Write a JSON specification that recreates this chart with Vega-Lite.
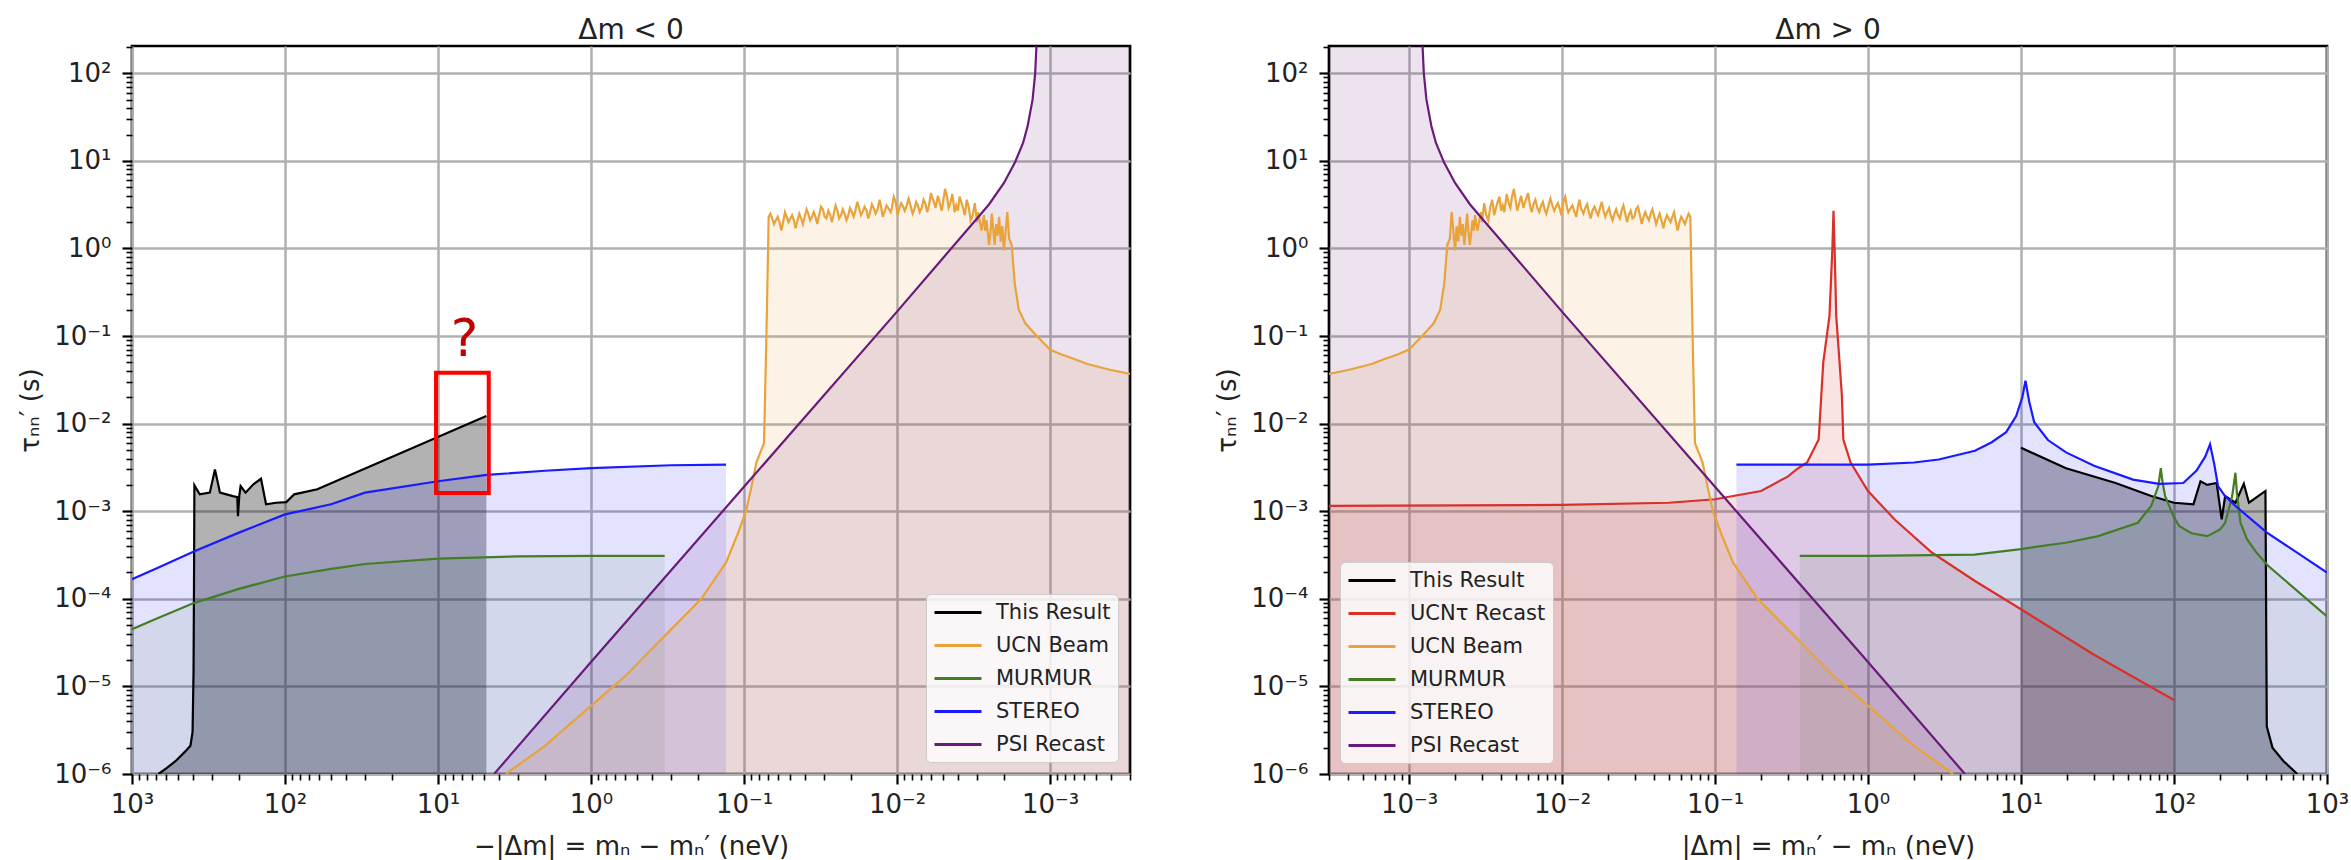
{
"$schema": "https://vega.github.io/schema/vega-lite/v6.json",
"background": "white",
"padding": {"left": 16, "top": 15, "right": 0, "bottom": 0},
"bounds": "flush",
"spacing": 199,
"config": {
  "font": "DejaVu Sans",
  "view": {"stroke": "#000000", "strokeWidth": 2.7},
  "axis": {"labelFont": "DejaVu Sans", "labelFontSize": 26, "titleFont": "DejaVu Sans", "titleFontSize": 26, "titleFontWeight": "normal", "labelColor": "#222222", "titleColor": "#222222", "domain": false, "tickColor": "#000000", "gridColor": "#b0b0b0", "gridWidth": 2.5, "zindex": 1, "labelOverlap": false, "labelFlush": false, "labelBound": false},
  "axisX": {"titlePadding": 16, "labelPadding": 7},
  "axisY": {"titlePadding": 10, "labelPadding": 11},
  "title": {"font": "DejaVu Sans", "fontSize": 28, "fontWeight": "normal", "color": "#222222", "offset": -11, "anchor": "middle"},
  "legend": {"symbolType": "M-1,0H3.7", "symbolSize": 400, "symbolStrokeWidth": 3, "labelFont": "DejaVu Sans", "labelFontSize": 21, "labelColor": "#222222", "labelOffset": 40, "labelLimit": 0, "rowPadding": 11, "padding": 7, "fillColor": "rgba(255,255,255,0.8)", "strokeColor": "#cccccc", "cornerRadius": 5, "symbolOpacity": 1, "offset": 11}
},
"datasets": {
  "LS": [
    {"s":"This Result","x":672,"y":1e-6},{"s":"This Result","x":600,"y":1.15e-6},{"s":"This Result","x":520,"y":1.4e-6},{"s":"This Result","x":450,"y":1.8e-6},{"s":"This Result","x":415,"y":2.1e-6},{"s":"This Result","x":402,"y":3e-6},{"s":"This Result","x":396,"y":1.5e-5},{"s":"This Result","x":393,"y":2e-4},{"s":"This Result","x":391,"y":1.98e-3},{"s":"This Result","x":361,"y":1.56e-3},{"s":"This Result","x":310,"y":1.63e-3},{"s":"This Result","x":287,"y":3.0e-3},{"s":"This Result","x":266,"y":1.63e-3},{"s":"This Result","x":219,"y":1.49e-3},{"s":"This Result","x":205,"y":1.45e-3},{"s":"This Result","x":203,"y":8.8e-4},{"s":"This Result","x":199,"y":1.5e-3},{"s":"This Result","x":195,"y":1.94e-3},{"s":"This Result","x":181,"y":1.63e-3},{"s":"This Result","x":161,"y":2.03e-3},{"s":"This Result","x":143.5,"y":2.35e-3},{"s":"This Result","x":133,"y":1.2e-3},{"s":"This Result","x":114,"y":1.25e-3},{"s":"This Result","x":98,"y":1.27e-3},{"s":"This Result","x":87,"y":1.56e-3},{"s":"This Result","x":61.5,"y":1.78e-3},{"s":"This Result","x":4.83,"y":1.22e-2},
    {"s":"MURMUR","x":1000,"y":4.5e-5},{"s":"MURMUR","x":700,"y":5.9e-5},{"s":"MURMUR","x":391,"y":9e-5},{"s":"MURMUR","x":200,"y":1.3e-4},{"s":"MURMUR","x":100,"y":1.8e-4},{"s":"MURMUR","x":50,"y":2.2e-4},{"s":"MURMUR","x":30,"y":2.5e-4},{"s":"MURMUR","x":10,"y":2.87e-4},{"s":"MURMUR","x":3,"y":3.05e-4},{"s":"MURMUR","x":1,"y":3.1e-4},{"s":"MURMUR","x":0.33,"y":3.1e-4},
    {"s":"STEREO","x":1000,"y":1.67e-4},{"s":"STEREO","x":700,"y":2.2e-4},{"s":"STEREO","x":391,"y":3.5e-4},{"s":"STEREO","x":200,"y":5.7e-4},{"s":"STEREO","x":100,"y":9.2e-4},{"s":"STEREO","x":50,"y":1.2e-3},{"s":"STEREO","x":30,"y":1.63e-3},{"s":"STEREO","x":10,"y":2.2e-3},{"s":"STEREO","x":4.8,"y":2.6e-3},{"s":"STEREO","x":2,"y":2.9e-3},{"s":"STEREO","x":1,"y":3.1e-3},{"s":"STEREO","x":0.3,"y":3.35e-3},{"s":"STEREO","x":0.131,"y":3.4e-3}
  ],
  "RS": [
    {"s":"This Result","x":10,"y":5.3e-3},{"s":"This Result","x":19.7,"y":3.1e-3},{"s":"This Result","x":41.5,"y":2.1e-3},{"s":"This Result","x":71,"y":1.49e-3},{"s":"This Result","x":100,"y":1.25e-3},{"s":"This Result","x":134,"y":1.2e-3},{"s":"This Result","x":149,"y":2.2e-3},{"s":"This Result","x":165,"y":2.0e-3},{"s":"This Result","x":190,"y":2.1e-3},{"s":"This Result","x":205,"y":8.1e-4},{"s":"This Result","x":216,"y":1.49e-3},{"s":"This Result","x":252,"y":1.25e-3},{"s":"This Result","x":286,"y":2.06e-3},{"s":"This Result","x":309,"y":1.25e-3},{"s":"This Result","x":382,"y":1.63e-3},{"s":"This Result","x":396,"y":1.7e-3},{"s":"This Result","x":404,"y":3.5e-6},{"s":"This Result","x":440,"y":2e-6},{"s":"This Result","x":520,"y":1.4e-6},{"s":"This Result","x":640,"y":1e-6},
    {"s":"UCNτ Recast","x":0.0003,"y":1.15e-3},{"s":"UCNτ Recast","x":0.01,"y":1.18e-3},{"s":"UCNτ Recast","x":0.05,"y":1.25e-3},{"s":"UCNτ Recast","x":0.1,"y":1.37e-3},{"s":"UCNτ Recast","x":0.2,"y":1.7e-3},{"s":"UCNτ Recast","x":0.3,"y":2.5e-3},{"s":"UCNτ Recast","x":0.35,"y":3.1e-3},{"s":"UCNτ Recast","x":0.4,"y":3.6e-3},{"s":"UCNτ Recast","x":0.476,"y":6.6e-3},{"s":"UCNτ Recast","x":0.51,"y":0.05},{"s":"UCNτ Recast","x":0.56,"y":0.17},{"s":"UCNτ Recast","x":0.585,"y":1.0},{"s":"UCNτ Recast","x":0.595,"y":2.7},{"s":"UCNτ Recast","x":0.605,"y":1.0},{"s":"UCNτ Recast","x":0.62,"y":0.17},{"s":"UCNτ Recast","x":0.675,"y":0.021},{"s":"UCNτ Recast","x":0.69,"y":6.6e-3},{"s":"UCNτ Recast","x":0.77,"y":3.6e-3},{"s":"UCNτ Recast","x":1.0,"y":1.7e-3},{"s":"UCNτ Recast","x":1.5,"y":8e-4},{"s":"UCNτ Recast","x":2.6,"y":3.4e-4},{"s":"UCNτ Recast","x":5,"y":1.6e-4},{"s":"UCNτ Recast","x":10,"y":7.6e-5},{"s":"UCNτ Recast","x":30,"y":2.3e-5},{"s":"UCNτ Recast","x":100,"y":7e-6},
    {"s":"MURMUR","x":0.358,"y":3.1e-4},{"s":"MURMUR","x":1,"y":3.1e-4},{"s":"MURMUR","x":4.96,"y":3.2e-4},{"s":"MURMUR","x":10,"y":3.7e-4},{"s":"MURMUR","x":20,"y":4.4e-4},{"s":"MURMUR","x":32,"y":5.2e-4},{"s":"MURMUR","x":58,"y":7.4e-4},{"s":"MURMUR","x":71,"y":1.15e-3},{"s":"MURMUR","x":79,"y":1.94e-3},{"s":"MURMUR","x":82,"y":3.1e-3},{"s":"MURMUR","x":84,"y":2.2e-3},{"s":"MURMUR","x":87.5,"y":1.49e-3},{"s":"MURMUR","x":100,"y":8.5e-4},{"s":"MURMUR","x":108,"y":6.8e-4},{"s":"MURMUR","x":130,"y":5.6e-4},{"s":"MURMUR","x":165,"y":5.2e-4},{"s":"MURMUR","x":200,"y":6.2e-4},{"s":"MURMUR","x":216,"y":7.4e-4},{"s":"MURMUR","x":240,"y":1.49e-3},{"s":"MURMUR","x":252,"y":2.75e-3},{"s":"MURMUR","x":258,"y":1.6e-3},{"s":"MURMUR","x":272,"y":7.4e-4},{"s":"MURMUR","x":300,"y":4.8e-4},{"s":"MURMUR","x":345,"y":3.4e-4},{"s":"MURMUR","x":410,"y":2.4e-4},{"s":"MURMUR","x":1000,"y":6.3e-5},
    {"s":"STEREO","x":0.138,"y":3.4e-3},{"s":"STEREO","x":1,"y":3.4e-3},{"s":"STEREO","x":2,"y":3.6e-3},{"s":"STEREO","x":2.9,"y":3.9e-3},{"s":"STEREO","x":5,"y":4.9e-3},{"s":"STEREO","x":6.4,"y":6.1e-3},{"s":"STEREO","x":8,"y":8e-3},{"s":"STEREO","x":9.3,"y":0.0122},{"s":"STEREO","x":10.2,"y":0.02},{"s":"STEREO","x":10.7,"y":0.031},{"s":"STEREO","x":11.3,"y":0.018},{"s":"STEREO","x":12.2,"y":0.0104},{"s":"STEREO","x":15,"y":6.5e-3},{"s":"STEREO","x":19.7,"y":4.7e-3},{"s":"STEREO","x":30,"y":3.3e-3},{"s":"STEREO","x":54,"y":2.3e-3},{"s":"STEREO","x":80,"y":2.05e-3},{"s":"STEREO","x":115,"y":2.1e-3},{"s":"STEREO","x":140,"y":2.9e-3},{"s":"STEREO","x":160,"y":4.2e-3},{"s":"STEREO","x":172,"y":5.8e-3},{"s":"STEREO","x":183,"y":3.5e-3},{"s":"STEREO","x":194,"y":1.94e-3},{"s":"STEREO","x":215,"y":1.5e-3},{"s":"STEREO","x":252,"y":1.15e-3},{"s":"STEREO","x":405,"y":5.7e-4},{"s":"STEREO","x":1000,"y":2e-4}
  ],
  "SH": [
    {"s":"UCN Beam","x":0.0003,"y":0.037},{"s":"UCN Beam","x":0.0004,"y":0.041},{"s":"UCN Beam","x":0.00057,"y":0.048},{"s":"UCN Beam","x":0.0007,"y":0.055},{"s":"UCN Beam","x":0.00085,"y":0.062},{"s":"UCN Beam","x":0.001,"y":0.07},{"s":"UCN Beam","x":0.00122,"y":0.1},{"s":"UCN Beam","x":0.00145,"y":0.14},{"s":"UCN Beam","x":0.0016,"y":0.2},{"s":"UCN Beam","x":0.0017,"y":0.4},{"s":"UCN Beam","x":0.00178,"y":1.1},
    {"s":"UCN Beam","x":0.00185,"y":1.3},{"s":"UCN Beam","x":0.0019,"y":2.6},{"s":"UCN Beam","x":0.00195,"y":1.6},{"s":"UCN Beam","x":0.002,"y":0.95},{"s":"UCN Beam","x":0.00205,"y":1.8},{"s":"UCN Beam","x":0.0021,"y":1.2},{"s":"UCN Beam","x":0.00215,"y":2.3},{"s":"UCN Beam","x":0.0022,"y":1.4},{"s":"UCN Beam","x":0.00225,"y":1.9},{"s":"UCN Beam","x":0.0023,"y":1.1},{"s":"UCN Beam","x":0.0024,"y":2.5},{"s":"UCN Beam","x":0.00245,"y":1.5},{"s":"UCN Beam","x":0.0025,"y":1.1},{"s":"UCN Beam","x":0.0026,"y":2.1},{"s":"UCN Beam","x":0.00265,"y":1.6},{"s":"UCN Beam","x":0.0027,"y":2.4},{"s":"UCN Beam","x":0.0028,"y":1.6},{"s":"UCN Beam","x":0.00295,"y":2.6},{"s":"UCN Beam","x":0.003,"y":2.0},{"s":"UCN Beam","x":0.0031,"y":3.3},{"s":"UCN Beam","x":0.0032,"y":2.4},{"s":"UCN Beam","x":0.0033,"y":2.1},{"s":"UCN Beam","x":0.0034,"y":3.0},{"s":"UCN Beam","x":0.0035,"y":3.6},{"s":"UCN Beam","x":0.0036,"y":2.4},{"s":"UCN Beam","x":0.0037,"y":2.9},{"s":"UCN Beam","x":0.0038,"y":3.4},{"s":"UCN Beam","x":0.0039,"y":3.9},{"s":"UCN Beam","x":0.004,"y":2.7},{"s":"UCN Beam","x":0.0041,"y":3.1},{"s":"UCN Beam","x":0.0042,"y":2.6},{"s":"UCN Beam","x":0.00435,"y":4.2},{"s":"UCN Beam","x":0.0045,"y":3.2},{"s":"UCN Beam","x":0.0046,"y":2.9},{"s":"UCN Beam","x":0.0047,"y":3.8},{"s":"UCN Beam","x":0.00485,"y":4.8},{"s":"UCN Beam","x":0.005,"y":3.4},{"s":"UCN Beam","x":0.0051,"y":2.7},{"s":"UCN Beam","x":0.0053,"y":3.5},{"s":"UCN Beam","x":0.0054,"y":4.0},{"s":"UCN Beam","x":0.0056,"y":2.9},{"s":"UCN Beam","x":0.0057,"y":3.3},{"s":"UCN Beam","x":0.0059,"y":3.9},{"s":"UCN Beam","x":0.006,"y":4.3},{"s":"UCN Beam","x":0.0062,"y":3.0},{"s":"UCN Beam","x":0.00635,"y":2.6},{"s":"UCN Beam","x":0.0065,"y":3.2},{"s":"UCN Beam","x":0.0067,"y":3.6},{"s":"UCN Beam","x":0.0069,"y":2.9},{"s":"UCN Beam","x":0.0071,"y":2.6},{"s":"UCN Beam","x":0.0073,"y":3.1},{"s":"UCN Beam","x":0.0075,"y":3.4},{"s":"UCN Beam","x":0.0077,"y":2.8},{"s":"UCN Beam","x":0.0079,"y":2.5},{"s":"UCN Beam","x":0.0082,"y":3.2},{"s":"UCN Beam","x":0.0084,"y":3.7},{"s":"UCN Beam","x":0.0087,"y":3.0},{"s":"UCN Beam","x":0.0089,"y":2.7},{"s":"UCN Beam","x":0.0092,"y":3.1},{"s":"UCN Beam","x":0.0094,"y":3.3},{"s":"UCN Beam","x":0.0097,"y":2.8},{"s":"UCN Beam","x":0.0099,"y":2.4},{"s":"UCN Beam","x":0.0102,"y":3.4},{"s":"UCN Beam","x":0.0105,"y":3.9},{"s":"UCN Beam","x":0.0108,"y":2.9},{"s":"UCN Beam","x":0.011,"y":2.6},{"s":"UCN Beam","x":0.0114,"y":2.9},{"s":"UCN Beam","x":0.0117,"y":3.1},{"s":"UCN Beam","x":0.012,"y":2.7},{"s":"UCN Beam","x":0.0124,"y":2.3},{"s":"UCN Beam","x":0.0127,"y":3.0},{"s":"UCN Beam","x":0.013,"y":3.6},{"s":"UCN Beam","x":0.0134,"y":2.8},{"s":"UCN Beam","x":0.0138,"y":2.5},{"s":"UCN Beam","x":0.0142,"y":2.9},{"s":"UCN Beam","x":0.0146,"y":3.2},{"s":"UCN Beam","x":0.015,"y":2.6},{"s":"UCN Beam","x":0.0154,"y":2.2},{"s":"UCN Beam","x":0.0158,"y":2.7},{"s":"UCN Beam","x":0.0163,"y":3.0},{"s":"UCN Beam","x":0.0168,"y":2.6},{"s":"UCN Beam","x":0.0172,"y":2.4},{"s":"UCN Beam","x":0.0177,"y":2.9},{"s":"UCN Beam","x":0.0182,"y":3.4},{"s":"UCN Beam","x":0.0187,"y":2.7},{"s":"UCN Beam","x":0.0192,"y":2.3},{"s":"UCN Beam","x":0.0197,"y":2.6},{"s":"UCN Beam","x":0.0203,"y":2.9},{"s":"UCN Beam","x":0.0208,"y":2.4},{"s":"UCN Beam","x":0.0214,"y":2.1},{"s":"UCN Beam","x":0.022,"y":2.5},{"s":"UCN Beam","x":0.0226,"y":2.8},{"s":"UCN Beam","x":0.0232,"y":2.4},{"s":"UCN Beam","x":0.0239,"y":2.2},{"s":"UCN Beam","x":0.0245,"y":2.7},{"s":"UCN Beam","x":0.0252,"y":3.1},{"s":"UCN Beam","x":0.0259,"y":2.5},{"s":"UCN Beam","x":0.0266,"y":2.0},{"s":"UCN Beam","x":0.0273,"y":2.4},{"s":"UCN Beam","x":0.0281,"y":2.7},{"s":"UCN Beam","x":0.0289,"y":2.2},{"s":"UCN Beam","x":0.0297,"y":2.3},{"s":"UCN Beam","x":0.0305,"y":2.8},{"s":"UCN Beam","x":0.0314,"y":3.0},{"s":"UCN Beam","x":0.0323,"y":2.4},{"s":"UCN Beam","x":0.0332,"y":1.9},{"s":"UCN Beam","x":0.0341,"y":2.3},{"s":"UCN Beam","x":0.035,"y":2.6},{"s":"UCN Beam","x":0.036,"y":2.3},{"s":"UCN Beam","x":0.037,"y":2.1},{"s":"UCN Beam","x":0.038,"y":2.5},{"s":"UCN Beam","x":0.039,"y":2.8},{"s":"UCN Beam","x":0.0401,"y":2.3},{"s":"UCN Beam","x":0.0412,"y":1.9},{"s":"UCN Beam","x":0.0423,"y":2.2},{"s":"UCN Beam","x":0.0435,"y":2.5},{"s":"UCN Beam","x":0.0447,"y":2.1},{"s":"UCN Beam","x":0.046,"y":1.7},{"s":"UCN Beam","x":0.0472,"y":2.1},{"s":"UCN Beam","x":0.0485,"y":2.4},{"s":"UCN Beam","x":0.0498,"y":2.2},{"s":"UCN Beam","x":0.0512,"y":2.0},{"s":"UCN Beam","x":0.0526,"y":2.3},{"s":"UCN Beam","x":0.054,"y":2.6},{"s":"UCN Beam","x":0.0555,"y":2.0},{"s":"UCN Beam","x":0.057,"y":1.6},{"s":"UCN Beam","x":0.0586,"y":2.0},{"s":"UCN Beam","x":0.0602,"y":2.3},{"s":"UCN Beam","x":0.0619,"y":2.1},{"s":"UCN Beam","x":0.0636,"y":1.9},{"s":"UCN Beam","x":0.0654,"y":2.2},{"s":"UCN Beam","x":0.0672,"y":2.5},{"s":"UCN Beam","x":0.069,"y":2.3},
    {"s":"UCN Beam","x":0.0705,"y":0.3},{"s":"UCN Beam","x":0.072,"y":0.05},{"s":"UCN Beam","x":0.074,"y":6e-3},{"s":"UCN Beam","x":0.083,"y":3.6e-3},{"s":"UCN Beam","x":0.09,"y":1.8e-3},{"s":"UCN Beam","x":0.097,"y":1e-3},{"s":"UCN Beam","x":0.11,"y":5.5e-4},{"s":"UCN Beam","x":0.131,"y":2.6e-4},{"s":"UCN Beam","x":0.19,"y":1e-4},{"s":"UCN Beam","x":0.35,"y":3.4e-5},{"s":"UCN Beam","x":0.6,"y":1.3e-5},{"s":"UCN Beam","x":1.16,"y":4.8e-6},{"s":"UCN Beam","x":2,"y":2.1e-6},{"s":"UCN Beam","x":3.6,"y":1e-6},
    {"s":"PSI Recast","x":0.0003,"y":250},{"s":"PSI Recast","x":0.0012,"y":250},{"s":"PSI Recast","x":0.00122,"y":250},{"s":"PSI Recast","x":0.00125,"y":100},{"s":"PSI Recast","x":0.0013,"y":50},{"s":"PSI Recast","x":0.0014,"y":25},{"s":"PSI Recast","x":0.0015,"y":16},{"s":"PSI Recast","x":0.0017,"y":9.5},{"s":"PSI Recast","x":0.002,"y":5.6},{"s":"PSI Recast","x":0.0025,"y":3.2},{"s":"PSI Recast","x":0.003,"y":2.2},{"s":"PSI Recast","x":0.005,"y":0.78},{"s":"PSI Recast","x":0.01,"y":0.19},{"s":"PSI Recast","x":0.1,"y":1.9e-3},{"s":"PSI Recast","x":1,"y":1.9e-5},{"s":"PSI Recast","x":4.3,"y":1e-6}
  ]
},
"hconcat": [
  {
    "title": "Δm < 0",
    "width": 998, "height": 728,
    "layer": [
      {"data": {"name": "LS"}, "mark": {"type": "area", "clip": true},
       "encoding": {
         "x": {"field": "x", "type": "quantitative", "scale": {"type": "log", "domain": [0.0003, 1000], "reverse": true, "nice": false},
               "axis": {"title": "−|Δm| = mₙ − mₙ′ (neV)",
                        "values": [0.0003,0.0004,0.0005,0.0006,0.0007,0.0008,0.0009,0.001,0.002,0.003,0.004,0.005,0.006,0.007,0.008,0.009,0.01,0.02,0.03,0.04,0.05,0.06,0.07,0.08,0.09,0.1,0.2,0.3,0.4,0.5,0.6,0.7,0.8,0.9,1,2,3,4,5,6,7,8,9,10,20,30,40,50,60,70,80,90,100,200,300,400,500,600,700,800,900,1000],
                        "labelExpr": "abs(log(datum.value)/LN10 - round(log(datum.value)/LN10)) < 0.001 ? '10' + (round(log(datum.value)/LN10) < 0 ? '⁻' : '') + ['⁰','¹','²','³','⁴','⁵','⁶','⁷','⁸'][abs(round(log(datum.value)/LN10))] : ''",
                        "tickSize": {"condition": {"test": "abs(log(datum.value)/LN10 - round(log(datum.value)/LN10)) < 0.001", "value": 10}, "value": 6},
                        "tickWidth": {"condition": {"test": "abs(log(datum.value)/LN10 - round(log(datum.value)/LN10)) < 0.001", "value": 2.2}, "value": 1.6},
                        "gridOpacity": {"condition": {"test": "abs(log(datum.value)/LN10 - round(log(datum.value)/LN10)) < 0.001", "value": 1}, "value": 0}}},
         "y": {"field": "y", "type": "quantitative", "stack": null, "scale": {"type": "log", "domain": [1e-6, 205], "nice": false},
               "axis": {"title": "τₙₙ′ (s)",
                        "values": [1e-6,2e-6,3e-6,4e-6,5e-6,6e-6,7e-6,8e-6,9e-6,1e-5,2e-5,3e-5,4e-5,5e-5,6e-5,7e-5,8e-5,9e-5,1e-4,2e-4,3e-4,4e-4,5e-4,6e-4,7e-4,8e-4,9e-4,0.001,0.002,0.003,0.004,0.005,0.006,0.007,0.008,0.009,0.01,0.02,0.03,0.04,0.05,0.06,0.07,0.08,0.09,0.1,0.2,0.3,0.4,0.5,0.6,0.7,0.8,0.9,1,2,3,4,5,6,7,8,9,10,20,30,40,50,60,70,80,90,100,200],
                        "labelExpr": "abs(log(datum.value)/LN10 - round(log(datum.value)/LN10)) < 0.001 ? '10' + (round(log(datum.value)/LN10) < 0 ? '⁻' : '') + ['⁰','¹','²','³','⁴','⁵','⁶','⁷','⁸'][abs(round(log(datum.value)/LN10))] : ''",
                        "tickSize": {"condition": {"test": "abs(log(datum.value)/LN10 - round(log(datum.value)/LN10)) < 0.001", "value": 10}, "value": 6},
                        "tickWidth": {"condition": {"test": "abs(log(datum.value)/LN10 - round(log(datum.value)/LN10)) < 0.001", "value": 2.2}, "value": 1.6},
                        "gridOpacity": {"condition": {"test": "abs(log(datum.value)/LN10 - round(log(datum.value)/LN10)) < 0.001", "value": 1}, "value": 0}}},
         "y2": {"datum": 1e-6},
         "fill": {"field": "s", "type": "nominal", "legend": null,
                  "scale": {"domain": ["PSI Recast", "STEREO", "MURMUR", "UCN Beam", "UCNτ Recast", "This Result"], "range": ["rgba(106,27,122,0.12)", "rgba(0,0,255,0.11)", "rgba(68,125,38,0.1)", "rgba(232,163,58,0.13)", "rgba(214,39,40,0.13)", "rgba(0,0,0,0.3)"]}}
       }},
      {"data": {"name": "SH"}, "mark": {"type": "area", "clip": true},
       "encoding": {
         "x": {"field": "x", "type": "quantitative"},
         "y": {"field": "y", "type": "quantitative", "stack": null},
         "y2": {"datum": 1e-6},
         "fill": {"field": "s", "type": "nominal", "legend": null}
       }},
      {"data": {"name": "LS"}, "mark": {"type": "line", "clip": true, "strokeWidth": 2.2},
       "encoding": {
         "x": {"field": "x", "type": "quantitative"},
         "y": {"field": "y", "type": "quantitative"},
         "stroke": {"field": "s", "type": "nominal",
                    "scale": {"domain": ["This Result", "UCN Beam", "MURMUR", "STEREO", "PSI Recast"], "range": ["#000000", "#e8a33a", "#447d26", "#1a1aff", "#6a1b7a"]},
                    "legend": {"orient": "bottom-right", "offset": 12, "title": null}}
       }},
      {"data": {"name": "SH"}, "mark": {"type": "line", "clip": true, "strokeWidth": 2.2},
       "encoding": {
         "x": {"field": "x", "type": "quantitative"},
         "y": {"field": "y", "type": "quantitative"},
         "stroke": {"field": "s", "type": "nominal", "legend": {"orient": "bottom-right", "offset": 12, "title": null}}
       }},
      {"data": {"values": [{"x": 10.3, "x2": 4.66, "y": 0.038, "y2": 0.00162}]},
       "mark": {"type": "rect", "filled": false, "color": "#ff0000", "strokeWidth": 4},
       "encoding": {
         "x": {"field": "x", "type": "quantitative"}, "x2": {"field": "x2"},
         "y": {"field": "y", "type": "quantitative"}, "y2": {"field": "y2"}
       }},
      {"data": {"values": [{"x": 6.7, "y": 0.09, "t": "?"}]},
       "mark": {"type": "text", "fontSize": 52, "color": "#c00000", "font": "DejaVu Sans", "baseline": "middle", "align": "center"},
       "encoding": {
         "x": {"field": "x", "type": "quantitative"},
         "y": {"field": "y", "type": "quantitative"},
         "text": {"field": "t"}
       }}
    ]
  },
  {
    "title": "Δm > 0",
    "width": 998, "height": 728,
    "layer": [
      {"data": {"name": "RS"}, "mark": {"type": "area", "clip": true},
       "encoding": {
         "x": {"field": "x", "type": "quantitative", "scale": {"type": "log", "domain": [0.0003, 1000], "nice": false},
               "axis": {"title": "|Δm| = mₙ′ − mₙ (neV)",
                        "values": [0.0003,0.0004,0.0005,0.0006,0.0007,0.0008,0.0009,0.001,0.002,0.003,0.004,0.005,0.006,0.007,0.008,0.009,0.01,0.02,0.03,0.04,0.05,0.06,0.07,0.08,0.09,0.1,0.2,0.3,0.4,0.5,0.6,0.7,0.8,0.9,1,2,3,4,5,6,7,8,9,10,20,30,40,50,60,70,80,90,100,200,300,400,500,600,700,800,900,1000],
                        "labelExpr": "abs(log(datum.value)/LN10 - round(log(datum.value)/LN10)) < 0.001 ? '10' + (round(log(datum.value)/LN10) < 0 ? '⁻' : '') + ['⁰','¹','²','³','⁴','⁵','⁶','⁷','⁸'][abs(round(log(datum.value)/LN10))] : ''",
                        "tickSize": {"condition": {"test": "abs(log(datum.value)/LN10 - round(log(datum.value)/LN10)) < 0.001", "value": 10}, "value": 6},
                        "tickWidth": {"condition": {"test": "abs(log(datum.value)/LN10 - round(log(datum.value)/LN10)) < 0.001", "value": 2.2}, "value": 1.6},
                        "gridOpacity": {"condition": {"test": "abs(log(datum.value)/LN10 - round(log(datum.value)/LN10)) < 0.001", "value": 1}, "value": 0}}},
         "y": {"field": "y", "type": "quantitative", "stack": null, "scale": {"type": "log", "domain": [1e-6, 205], "nice": false},
               "axis": {"title": "τₙₙ′ (s)",
                        "values": [1e-6,2e-6,3e-6,4e-6,5e-6,6e-6,7e-6,8e-6,9e-6,1e-5,2e-5,3e-5,4e-5,5e-5,6e-5,7e-5,8e-5,9e-5,1e-4,2e-4,3e-4,4e-4,5e-4,6e-4,7e-4,8e-4,9e-4,0.001,0.002,0.003,0.004,0.005,0.006,0.007,0.008,0.009,0.01,0.02,0.03,0.04,0.05,0.06,0.07,0.08,0.09,0.1,0.2,0.3,0.4,0.5,0.6,0.7,0.8,0.9,1,2,3,4,5,6,7,8,9,10,20,30,40,50,60,70,80,90,100,200],
                        "labelExpr": "abs(log(datum.value)/LN10 - round(log(datum.value)/LN10)) < 0.001 ? '10' + (round(log(datum.value)/LN10) < 0 ? '⁻' : '') + ['⁰','¹','²','³','⁴','⁵','⁶','⁷','⁸'][abs(round(log(datum.value)/LN10))] : ''",
                        "tickSize": {"condition": {"test": "abs(log(datum.value)/LN10 - round(log(datum.value)/LN10)) < 0.001", "value": 10}, "value": 6},
                        "tickWidth": {"condition": {"test": "abs(log(datum.value)/LN10 - round(log(datum.value)/LN10)) < 0.001", "value": 2.2}, "value": 1.6},
                        "gridOpacity": {"condition": {"test": "abs(log(datum.value)/LN10 - round(log(datum.value)/LN10)) < 0.001", "value": 1}, "value": 0}}},
         "y2": {"datum": 1e-6},
         "fill": {"field": "s", "type": "nominal", "legend": null,
                  "scale": {"domain": ["PSI Recast", "STEREO", "MURMUR", "UCN Beam", "UCNτ Recast", "This Result"], "range": ["rgba(106,27,122,0.12)", "rgba(0,0,255,0.11)", "rgba(68,125,38,0.1)", "rgba(232,163,58,0.13)", "rgba(214,39,40,0.13)", "rgba(0,0,0,0.3)"]}}
       }},
      {"data": {"name": "SH"}, "mark": {"type": "area", "clip": true},
       "encoding": {
         "x": {"field": "x", "type": "quantitative"},
         "y": {"field": "y", "type": "quantitative", "stack": null},
         "y2": {"datum": 1e-6},
         "fill": {"field": "s", "type": "nominal", "legend": null}
       }},
      {"data": {"name": "RS"}, "mark": {"type": "line", "clip": true, "strokeWidth": 2.2},
       "encoding": {
         "x": {"field": "x", "type": "quantitative"},
         "y": {"field": "y", "type": "quantitative"},
         "stroke": {"field": "s", "type": "nominal",
                    "scale": {"domain": ["This Result", "UCNτ Recast", "UCN Beam", "MURMUR", "STEREO", "PSI Recast"], "range": ["#000000", "#d9302a", "#e8a33a", "#447d26", "#1a1aff", "#6a1b7a"]},
                    "legend": {"orient": "bottom-left", "offset": 11, "title": null}}
       }},
      {"data": {"name": "SH"}, "mark": {"type": "line", "clip": true, "strokeWidth": 2.2},
       "encoding": {
         "x": {"field": "x", "type": "quantitative"},
         "y": {"field": "y", "type": "quantitative"},
         "stroke": {"field": "s", "type": "nominal", "legend": {"orient": "bottom-left", "offset": 11, "title": null}}
       }}
    ]
  }
],
"resolve": {"scale": {"x": "independent", "y": "independent", "fill": "independent", "stroke": "independent"}, "legend": {"stroke": "independent"}}
}
